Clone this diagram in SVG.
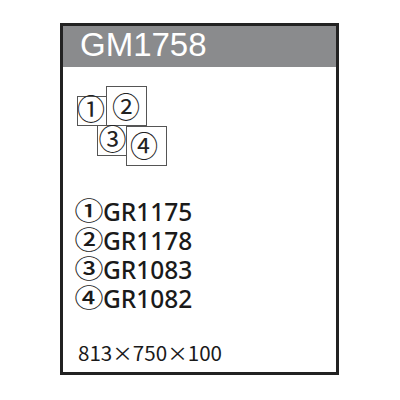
<svg xmlns="http://www.w3.org/2000/svg" width="400" height="400" viewBox="0 0 400 400">
<style>
.sq{fill:#fff;stroke:#555;stroke-width:1}
.cn{font-family:"Noto Sans CJK JP",sans-serif;font-size:28px;fill:#222;text-anchor:middle}
.lc{font-family:"Noto Sans CJK JP",sans-serif;font-size:24.5px;font-weight:500;text-anchor:middle}
.lst{font-family:"Noto Sans",sans-serif;font-size:24.5px;font-weight:500;text-anchor:start}
</style>
<rect x="0" y="0" width="400" height="400" fill="#fff"/>
<g id="frame">
<rect x="61.5" y="25" width="276" height="42" fill="#8a8b8d"/>
<rect x="61.5" y="24.5" width="276" height="349" fill="none" stroke="#222" stroke-width="3"/>
<text x="80" y="56" font-family="Liberation Sans, Arial, sans-serif" font-size="33" fill="#fff">GM1758</text>
</g>
<g id="n1"><rect class="sq" x="77.5" y="96.5" width="29" height="29"/><text class="cn" x="91" y="120">①</text></g>
<g id="n2"><rect class="sq" x="106.5" y="86.5" width="40" height="39"/><text class="cn" x="126" y="118">②</text></g>
<g id="n3"><rect class="sq" x="97.5" y="125.5" width="29" height="30"/><text class="cn" x="112.5" y="149.5">③</text></g>
<g id="n4"><rect class="sq" x="126.5" y="126.5" width="40" height="39"/><text class="cn" x="144" y="156.5">④</text></g>
<g id="list">
<text fill="#1a1a1a"><tspan class="lc" x="89" y="220.3" textLength="29" lengthAdjust="spacingAndGlyphs">①</tspan><tspan class="lst" x="103" y="221">GR1175</tspan><tspan class="lc" x="89" y="249.3" textLength="29" lengthAdjust="spacingAndGlyphs">②</tspan><tspan class="lst" x="103" y="250">GR1178</tspan><tspan class="lc" x="89" y="278.3" textLength="29" lengthAdjust="spacingAndGlyphs">③</tspan><tspan class="lst" x="103" y="279">GR1083</tspan><tspan class="lc" x="89" y="307.3" textLength="29" lengthAdjust="spacingAndGlyphs">④</tspan><tspan class="lst" x="103" y="308">GR1082</tspan></text>
</g>
<text x="78" y="361" font-family="Noto Sans CJK JP, sans-serif" font-size="19.5" fill="#1a1a1a" textLength="144" lengthAdjust="spacingAndGlyphs">813×750×100</text>
</svg>
